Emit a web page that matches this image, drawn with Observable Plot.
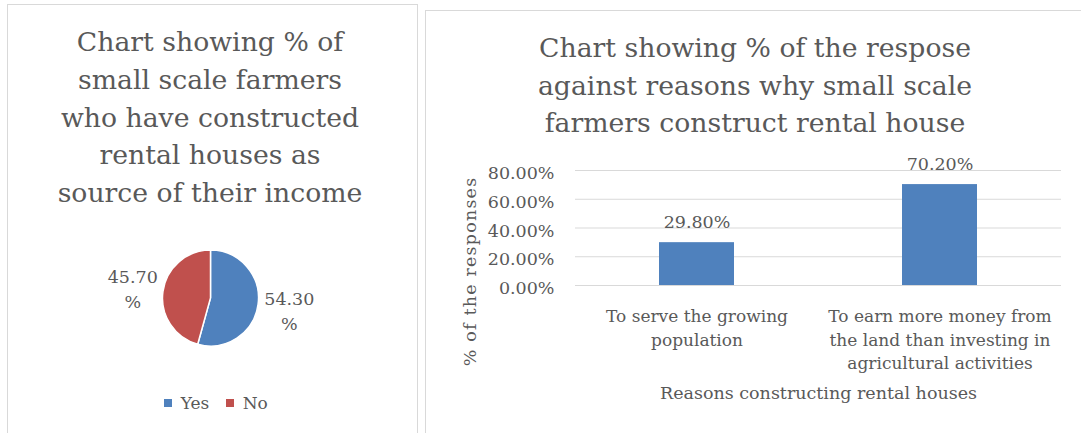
<!DOCTYPE html>
<html><head><meta charset="utf-8">
<script src="https://cdn.jsdelivr.net/npm/d3@7"></script>
<script src="https://cdn.jsdelivr.net/npm/@observablehq/plot@0.6"></script>
<style>
body{margin:0;background:#fff;}
#root{position:relative;width:1081px;height:433px;overflow:hidden;font-family:"DejaVu Serif";color:#595959;background:#fff;}
.panel{position:absolute;border:1px solid #d9d9d9;box-sizing:border-box;}
.title{position:absolute;text-align:center;white-space:nowrap;font-size:26.7px;}
.abs{position:absolute;}
</style></head><body>
<div id="root">
 <div class="panel" style="left:7px;top:4px;width:411px;height:460px"></div>
 <div class="panel" style="left:425px;top:10px;width:700px;height:460px"></div>
 <div class="title" id="t1" style="left:0;width:420px;top:23px;line-height:37.75px"></div>
 <div class="title" id="t2" style="left:425px;width:660px;top:29px;line-height:37.5px"></div>
 <div class="abs" id="pie" style="left:100px;top:228px"></div>
 <div class="abs" id="legend" style="left:0;top:386px;width:449px;display:flex;justify-content:center"></div>
 <div class="abs" id="bar" style="left:425px;top:150px"></div>
</div>
<script>
// ---- data ----
const pieCategories = ["Yes", "No"];
const pieValues = [54.3, 45.7];
const pieColors = ["#4F81BD", "#C0504D"];

const reasons = [
  "To serve the growing population",
  "To earn more money from the land than investing in agricultural activities"
];
const reasonLabels = [
  "To serve the growing\npopulation",
  "To earn more money from\nthe land than investing in\nagricultural activities"
];
const responseShares = [0.298, 0.702];
const yTicks = [0, 0.2, 0.4, 0.6, 0.8];

const titleLeft = ["Chart showing % of", "small scale farmers", "who have constructed", "rental houses as", "source of their income"];
const titleRight = ["Chart showing % of the respose", "against reasons why small scale", "farmers construct rental house"];
const xAxisTitle = "Reasons constructing rental houses";
const yAxisTitle = "% of the responses";

// ---- titles ----
for (const [id, lines] of [["t1", titleLeft], ["t2", titleRight]]) {
  const el = document.getElementById(id);
  lines.forEach((l, i) => { if (i) el.appendChild(document.createElement("br")); el.appendChild(document.createTextNode(l)); });
}

const textColor = "#595959";
const font = "DejaVu Serif";

// ---- pie ----
const pieData = pieCategories.map((c, i) => ({cat: c, value: pieValues[i]}));
const arcs = d3.pie().sort(null).value(d => d.value)(pieData);
const labelR = 1.646;
const labelData = arcs.map(a => {
  const m = (a.startAngle + a.endAngle) / 2;
  return {lx: labelR * Math.sin(m), ly: labelR * Math.cos(m), label: d3.format(".2f")(a.data.value) + "\n%"};
});
const colorFallback = d3.scaleOrdinal(pieCategories, pieColors);
const cxp = 110.5, cyp = 70, rp = 48;
const pie = Plot.plot({
  width: 220, height: 140, margin: 0,
  style: {fontFamily: font, color: textColor, background: "transparent", overflow: "visible"},
  x: {domain: [-1, 1], range: [cxp - rp, cxp + rp], axis: null},
  y: {domain: [-1, 1], range: [cyp + rp, cyp - rp], axis: null},
  marks: [
    (index, scales) => {
      const cx = scales.x ? scales.x(0) : cxp;
      const cy = scales.y ? scales.y(0) : cyp;
      const r = scales.x ? Math.abs(scales.x(1) - scales.x(0)) : rp;
      const col = scales.color || colorFallback;
      const g = d3.create("svg:g").attr("transform", `translate(${cx},${cy})`);
      g.selectAll("path").data(arcs).join("path")
        .attr("d", d3.arc().innerRadius(0).outerRadius(r))
        .attr("fill", d => col(d.data.cat))
        .attr("stroke", "white").attr("stroke-width", 1.5);
      return g.node();
    },
    Plot.text(labelData, {x: "lx", y: "ly", text: "label", fontSize: 17.5, fill: textColor, lineHeight: 1.43})
  ]
});
document.getElementById("pie").appendChild(pie);

// ---- legend ----
const legend = Plot.legend({
  color: {type: "categorical", domain: pieCategories, range: pieColors},
  swatchSize: 8,
  style: {fontFamily: font, fontSize: "17px", color: textColor, background: "transparent"}
});
document.getElementById("legend").appendChild(legend);

// ---- bar chart ----
const barData = reasons.map((r, i) => ({reason: r, share: responseShares[i]}));
const bar = Plot.plot({
  width: 656, height: 260,
  marginLeft: 150, marginRight: 20, marginTop: 20, marginBottom: 125,
  style: {fontFamily: font, fontSize: "17.5px", color: textColor, background: "transparent", overflow: "visible"},
  x: {domain: reasons, paddingInner: 0.69, paddingOuter: 0.345, label: null},
  y: {domain: [0, 0.8], label: null},
  marks: [
    Plot.gridY(yTicks, {stroke: "#d9d9d9", strokeOpacity: 1, strokeWidth: 1}),
    Plot.barY(barData, {x: "reason", y: "share", fill: "#4F81BD"}),
    Plot.text(barData, {x: "reason", y: "share", text: d => d3.format(".2%")(d.share), dy: -20, fontSize: 17.5, fill: textColor}),
    Plot.axisY({ticks: yTicks, tickFormat: d3.format(".2%"), tickSize: 0, tickPadding: 21, dy: 3, label: null, fontSize: 17.5}),
    Plot.axisX({tickSize: 0, tickPadding: 20, tickFormat: d => reasonLabels[reasons.indexOf(d)], lineHeight: 1.38, label: null, fontSize: 17}),
    Plot.text([xAxisTitle], {frameAnchor: "bottom", lineAnchor: "middle", textAnchor: "middle", dy: 108, fontSize: 17.5, fill: textColor}),
    Plot.text([yAxisTitle], {frameAnchor: "left", lineAnchor: "middle", textAnchor: "middle", dx: -105, dy: 43.5, rotate: -90, fontSize: 17.5, fill: textColor})
  ]
});
d3.select(bar).selectAll("text").filter(function() { return this.textContent === yAxisTitle; }).attr("letter-spacing", "1.2px");
document.getElementById("bar").appendChild(bar);
</script>
</body></html>
